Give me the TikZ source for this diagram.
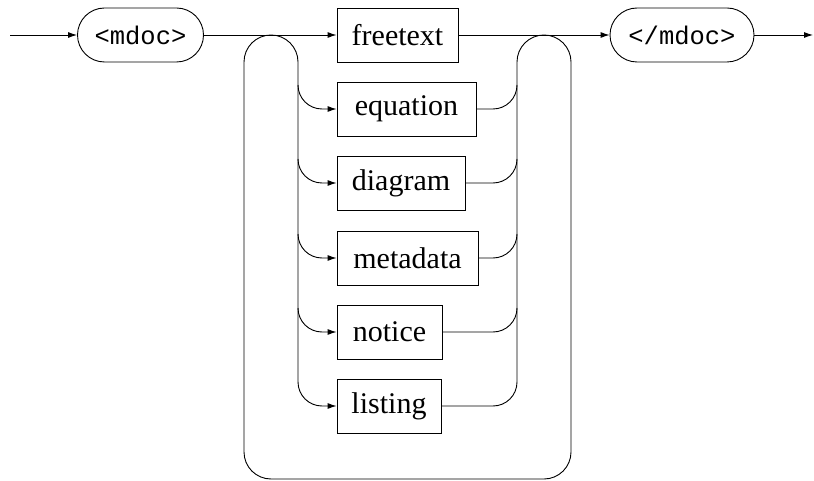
\documentclass[tikz,border=0pt]{standalone}
\usepackage{fontspec}
\setmainfont{Liberation Serif}
\newfontfamily\monofnt{Liberation Mono}
\usetikzlibrary{arrows.meta}
\newcommand{\ntfnt}{\fontsize{30}{36}\selectfont}
\newcommand{\tmfnt}{\monofnt\fontsize{25.5}{30}\selectfont}
\tikzset{
  termbox/.style={draw, line width=0.9pt, rounded corners=27pt, minimum width=#1, minimum height=54pt, inner sep=0pt, font=\tmfnt},
  ntbox/.style={draw, line width=0.9pt, rectangle, minimum width=#1, minimum height=54pt, inner sep=0pt, font=\ntfnt},
  conn/.style={line width=0.9pt},
  arr/.style={conn, -{Latex[length=9pt,width=6pt]}}
}
\begin{document}
\begin{tikzpicture}[x=1pt,y=1pt]
\useasboundingbox (0,0) rectangle (814,-481);
% terminals
\node[termbox=126pt] (mdoc) at (140.5,-35) {<mdoc>};
\node[termbox=144pt] (emdoc) at (682,-35) {</mdoc>};
% choices
\node[ntbox=121pt] (freetext) at (397.5,-35) {freetext};
\node[ntbox=139pt] (equation) at (406.5,-109) {equation};
\node[ntbox=128pt] (diagram) at (401,-183) {diagram};
\node[ntbox=141pt] (metadata) at (407.5,-258) {metadata};
\node[ntbox=105pt] (notice) at (389.5,-332) {notice};
\node[ntbox=104pt] (listing) at (389,-406) {listing};
% free ends
\coordinate (start) at (10,-35);
\coordinate (finish) at (813,-35);
% main line
\draw[arr] (start) -- (mdoc.west);
\draw[arr] (mdoc.east) -- (freetext.west);
\draw[arr] (freetext.east) -- (emdoc.west);
\draw[arr] (emdoc.east) -- (finish);
% loop structure
\draw[conn] (298,-382) -- (298,-62) arc(0:180:27) -- (244,-452) arc(180:270:27)
  -- (544,-479) arc(270:360:27) -- (571,-62) arc(0:180:27) -- (517,-382);
% branches
\foreach \n/\y in {equation/109, diagram/183, metadata/258, notice/332, listing/406}{
  \draw[arr] (298,-\y+24) arc(180:270:24) -- (\n.west);
  \draw[conn] (\n.east) -- (493,-\y) arc(270:360:24);
}
\end{tikzpicture}
\end{document}
